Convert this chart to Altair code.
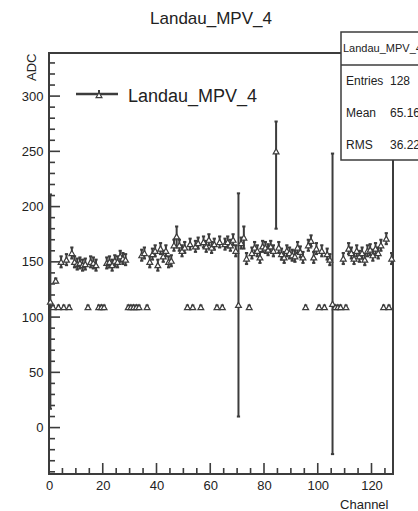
import altair as alt
import pandas as pd

# ---------------- data ----------------
channel = list(range(128))
adc = [
    114, 109, 133, 109, 150, 109, 152, 109, 158, 150, 148, 149, 147, 148, 109, 150,
    149, 147, 109, 109, 109, 149, 150, 147, 151, 150, 155, 153, 152, 109, 109, 109,
    109, 109, 156, 158, 109, 150, 157, 160, 147, 162, 155, 160, 150, 151, 165, 173,
    165, 160, 163, 109, 166, 109, 164, 167, 109, 168, 164, 170, 163, 166, 109, 168,
    109, 166, 168, 165, 170, 160, 111, 167, 172, 153, 109, 158, 163, 160, 154, 164,
    163, 161, 164, 160, 250, 163, 157, 154, 160, 158, 156, 155, 163, 159, 154, 109,
    165, 169, 154, 162, 109, 160, 109, 157, 152, 112, 109, 109, 109, 153, 109, 162,
    158, 153, 160, 155, 158, 152, 160, 161, 156, 162, 158, 165, 109, 171, 109, 153,
]
err_low = [
    97, 1.5, 2, 1.5, 5, 1.5, 5, 1.5, 5, 5, 5, 5, 5, 5, 1.5, 5,
    5, 5, 1.5, 1.5, 1.5, 5, 5, 5, 5, 5, 5, 5, 5, 1.5, 1.5, 1.5,
    1.5, 1.5, 5, 5, 1.5, 5, 5, 5, 5, 5, 5, 5, 5, 5, 5, 9,
    5, 5, 5, 1.5, 5, 1.5, 5, 5, 1.5, 5, 5, 5, 5, 5, 1.5, 5,
    1.5, 5, 5, 5, 5, 5, 101, 5, 10, 5, 1.5, 5, 5, 5, 5, 5,
    5, 5, 5, 5, 70, 5, 5, 5, 5, 5, 5, 5, 5, 5, 5, 1.5,
    5, 5, 5, 5, 1.5, 5, 1.5, 5, 5, 136, 1.5, 1.5, 1.5, 5, 1.5, 5,
    5, 5, 5, 5, 5, 5, 5, 5, 5, 5, 5, 5, 1.5, 5, 1.5, 5,
]
err_high = [
    97, 1.5, 2, 1.5, 5, 1.5, 5, 1.5, 5, 5, 5, 5, 5, 5, 1.5, 5,
    5, 5, 1.5, 1.5, 1.5, 5, 5, 5, 5, 5, 5, 5, 5, 1.5, 1.5, 1.5,
    1.5, 1.5, 5, 5, 1.5, 5, 5, 5, 5, 5, 5, 5, 5, 5, 5, 9,
    5, 5, 5, 1.5, 5, 1.5, 5, 5, 1.5, 5, 5, 5, 5, 5, 1.5, 5,
    1.5, 5, 5, 5, 5, 5, 101, 5, 10, 5, 1.5, 5, 5, 5, 5, 5,
    5, 5, 5, 5, 27, 5, 5, 5, 5, 5, 5, 5, 5, 5, 5, 1.5,
    5, 5, 5, 5, 1.5, 5, 1.5, 5, 5, 136, 1.5, 1.5, 1.5, 5, 1.5, 5,
    5, 5, 5, 5, 5, 5, 5, 5, 5, 5, 5, 5, 1.5, 5, 1.5, 5,
]

title_text = "Landau_MPV_4"
series_name = "Landau_MPV_4"
stats_labels = ["Entries", "Mean", "RMS"]
stats_values = ["128", "65.16", "36.22"]

x_major = [0, 20, 40, 60, 80, 100, 120]
x_minor = [5, 10, 15, 25, 30, 35, 45, 50, 55, 65, 70, 75, 85, 90, 95, 105, 110, 115, 125]
y_major = [0, 50, 100, 150, 200, 250, 300]
y_minor = [-40, -30, -20, -10, 10, 20, 30, 40, 60, 70, 80, 90, 110, 120, 130, 140,
           160, 170, 180, 190, 210, 220, 230, 240, 260, 270, 280, 290, 310, 320, 330]

# ---------------- layout / style ----------------
W, H = 344, 421
INK = "#3c3c3c"
FONT = "Liberation Sans"
xs = alt.Scale(domain=[0, 128], nice=False, zero=False)
ys = alt.Scale(domain=[-42, 339], nice=False, zero=False)

df = pd.DataFrame({"ch": channel, "adc": adc, "elo": err_low, "ehi": err_high})
df["x"] = df["ch"] + 0.5
df["lo"] = df["adc"] - df["elo"]
df["hi"] = df["adc"] + df["ehi"]
df["xl"] = df["x"] - 0.5
df["xr"] = df["x"] + 0.5
df["cl"] = df["x"] - 0.6
df["cr"] = df["x"] + 0.6

one = pd.DataFrame({"k": [0]})

frame = alt.Chart(one).mark_rect(filled=False, stroke=INK, strokeWidth=2).encode(
    x=alt.value(0), x2=alt.value(W), y=alt.value(0), y2=alt.value(H))

ymaj = alt.Chart(pd.DataFrame({"v": y_major})).mark_rule(color=INK, strokeWidth=1.6).encode(
    y=alt.Y("v:Q", scale=ys, axis=None), x=alt.value(0), x2=alt.value(11))
ymin = alt.Chart(pd.DataFrame({"v": y_minor})).mark_rule(color=INK, strokeWidth=1.6).encode(
    y=alt.Y("v:Q", scale=ys, axis=None), x=alt.value(0), x2=alt.value(6))
xmaj = alt.Chart(pd.DataFrame({"v": x_major})).mark_rule(color=INK, strokeWidth=1.6).encode(
    x=alt.X("v:Q", scale=xs, axis=None), y=alt.value(H), y2=alt.value(H - 11))
xmin = alt.Chart(pd.DataFrame({"v": x_minor})).mark_rule(color=INK, strokeWidth=1.6).encode(
    x=alt.X("v:Q", scale=xs, axis=None), y=alt.value(H), y2=alt.value(H - 6))

base = alt.Chart(df)
vbars = base.mark_rule(color=INK, strokeWidth=2).encode(
    x=alt.X("x:Q", scale=xs, axis=None),
    y=alt.Y("lo:Q", scale=ys, axis=None), y2="hi:Q")
hbars = base.mark_rule(color=INK, strokeWidth=2).encode(
    x=alt.X("xl:Q", scale=xs, axis=None), x2="xr:Q",
    y=alt.Y("adc:Q", scale=ys, axis=None))
cap_lo = base.mark_rule(color=INK, strokeWidth=2).encode(
    x=alt.X("cl:Q", scale=xs, axis=None), x2="cr:Q",
    y=alt.Y("lo:Q", scale=ys, axis=None))
cap_hi = base.mark_rule(color=INK, strokeWidth=2).encode(
    x=alt.X("cl:Q", scale=xs, axis=None), x2="cr:Q",
    y=alt.Y("hi:Q", scale=ys, axis=None))

points = base.mark_point(shape="triangle-up", filled=True, fill="white", stroke=INK,
                         strokeWidth=1.2, size=34, opacity=1).encode(
    x=alt.X("x:Q", scale=xs, axis=alt.Axis(
        values=x_major, ticks=False, domain=False, grid=False,
        labelFontSize=13, labelColor="#222", labelPadding=5, labelFlush=False,
        title="Channel", titleFontSize=13, titleFontWeight="normal", titleColor="#222",
        titleAlign="right", titleX=339, titleY=34, titleBaseline="alphabetic")),
    y=alt.Y("adc:Q", scale=ys, axis=alt.Axis(
        values=y_major, ticks=False, domain=False, grid=False,
        labelFontSize=13, labelColor="#222", labelPadding=6,
        title="ADC", titleFontSize=13, titleFontWeight="normal", titleColor="#222",
        titleAngle=270, titleAlign="right", titleX=-14, titleY=0,
        titleBaseline="alphabetic")),
)

# legend (drawn by hand, ROOT style)
leg_line = alt.Chart(one).mark_rule(color=INK, strokeWidth=2.5).encode(
    x=alt.value(27), x2=alt.value(69), y=alt.value(41))
leg_err = alt.Chart(one).mark_rule(color=INK, strokeWidth=2).encode(
    x=alt.value(50), y=alt.value(37), y2=alt.value(45))
leg_pt = alt.Chart(one).mark_point(shape="triangle-up", filled=True, fill="white",
                                   stroke=INK, strokeWidth=1.2, size=34, opacity=1).encode(
    x=alt.value(50), y=alt.value(42))
leg_txt = alt.Chart(pd.DataFrame({"t": [series_name]})).mark_text(
    font=FONT, fontSize=18, color="#222", align="left", baseline="middle").encode(
    text="t:N", x=alt.value(79), y=alt.value(44))

title = alt.Chart(pd.DataFrame({"t": [title_text]})).mark_text(
    font=FONT, fontSize=17, color="#222", align="center", baseline="alphabetic").encode(
    text="t:N", x=alt.value(162), y=alt.value(-29))

# stats box (cut by the right edge, as in the reference)
sbox = alt.Chart(one).mark_rect(fill="white", stroke=INK, strokeWidth=1.5).encode(
    x=alt.value(292), x2=alt.value(374), y=alt.value(-21), y2=alt.value(107))
ssep = alt.Chart(one).mark_rule(color=INK, strokeWidth=1.5).encode(
    x=alt.value(292), x2=alt.value(374), y=alt.value(12), y2=alt.value(12))
shead = alt.Chart(pd.DataFrame({"t": [series_name]})).mark_text(
    font=FONT, fontSize=11, color="#222", align="left", baseline="middle").encode(
    text="t:N", x=alt.value(294), y=alt.value(-4))
stats_df = pd.DataFrame({"lab": stats_labels, "val": stats_values, "row": [0, 1, 2]})
srow = alt.Scale(domain=[0, 2], range=[28, 92])
slab = alt.Chart(stats_df).mark_text(font=FONT, fontSize=12, color="#222", align="left",
                                     baseline="middle").encode(
    text="lab:N", x=alt.value(297), y=alt.Y("row:Q", scale=srow, axis=None))
sval = alt.Chart(stats_df).mark_text(font=FONT, fontSize=12, color="#222", align="left",
                                     baseline="middle").encode(
    text="val:N", x=alt.value(341), y=alt.Y("row:Q", scale=srow, axis=None))

chart = alt.layer(
    frame, ymaj, ymin, xmaj, xmin, vbars, hbars, cap_lo, cap_hi, points,
    leg_line, leg_err, leg_pt, leg_txt, title, sbox, ssep, shead, slab, sval,
).resolve_scale(x="independent", y="independent").properties(
    width=W, height=H,
    autosize=alt.AutoSizeParams(type="none"),
    padding={"left": 49, "top": 53, "right": 25, "bottom": 37},
    background="white",
).configure_view(strokeWidth=0).configure_axis(
    labelFont=FONT, titleFont=FONT)

chart.save("out.html", embed_options={"renderer": "svg", "actions": False})
